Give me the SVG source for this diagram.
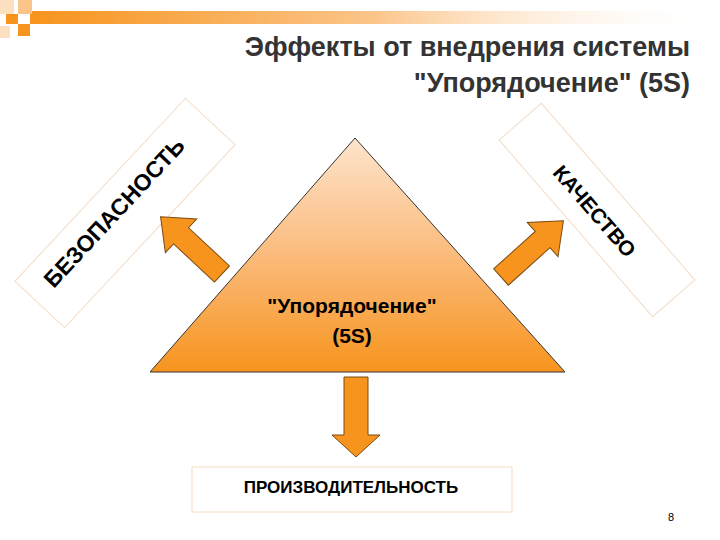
<svg xmlns="http://www.w3.org/2000/svg" width="720" height="540" viewBox="0 0 720 540">
<defs>
<linearGradient id="bar" x1="0" x2="1" y1="0" y2="0"><stop offset="0" stop-color="#f7941d"/><stop offset="0.5" stop-color="#fbc58a"/><stop offset="1" stop-color="#fff" stop-opacity="0"/></linearGradient>
<linearGradient id="tri" x1="0" x2="0" y1="0" y2="1"><stop offset="0" stop-color="#fde4cc"/><stop offset="0.5" stop-color="#fbbb7c"/><stop offset="1" stop-color="#f7941d"/></linearGradient>
<style>
.ar{fill:#f7941d;stroke:#7a4a10;stroke-width:1}
.bx{fill:#fff;stroke:#f3dcc4;stroke-width:1}
.t{font-family:"Liberation Sans",Arial,sans-serif;fill:#000}
</style>
</defs>
<g id="decor">
<rect x="30" y="11" width="690" height="13" fill="url(#bar)"/>
<rect x="0" y="0" width="14" height="14" fill="#fde0c0"/>
<rect x="18" y="0" width="14" height="14" fill="#fbc58a"/>
<rect x="6" y="14" width="12" height="10" fill="#f7941d"/>
<rect x="18" y="24" width="12" height="12" fill="#f7941d"/>
<rect x="0" y="26" width="10" height="12" fill="#fde0c0"/>
</g>
<g id="title" class="t" font-size="27" font-weight="bold" text-anchor="end">
<text x="690" y="56" style="fill:#333">Эффекты от внедрения системы</text>
<text x="690" y="92" style="fill:#333">"Упорядочение" (5S)</text>
</g>
<g id="safety">
<rect class="bx" x="-125" y="-34" width="250" height="68" transform="translate(125,213) rotate(-47)"/>
<text class="t" font-size="23" font-weight="bold" text-anchor="middle" transform="translate(120,218) rotate(-47)">БЕЗОПАСНОСТЬ</text>
</g>
<g id="quality">
<rect class="bx" x="-117" y="-28" width="234" height="56" transform="translate(597,210) rotate(49)"/>
<text class="t" font-size="21" font-weight="bold" text-anchor="middle" transform="translate(589,216) rotate(49)">КАЧЕСТВО</text>
</g>
<g id="center">
<polygon points="355,138 150,372 565,372" fill="url(#tri)" stroke="#333" stroke-width="1"/>
<text class="t" font-size="21" font-weight="bold" text-anchor="middle" x="352" y="313">"Упорядочение"</text>
<text class="t" font-size="21" font-weight="bold" text-anchor="middle" x="352" y="343">(5S)</text>
</g>
<g id="connectors">
<polygon class="ar" points="0,-11 56,-11 56,-23 84,0 56,23 56,11 0,11" transform="translate(222,274) rotate(-137)"/>
<polygon class="ar" points="0,-11 56,-11 56,-23 84,0 56,23 56,11 0,11" transform="translate(501,277) rotate(-42)"/>
<polygon class="ar" points="0,-12 58,-12 58,-24 80,0 58,24 58,12 0,12" transform="translate(356,377) rotate(90)"/>
</g>
<g id="productivity">
<rect x="192" y="467" width="320" height="45" fill="#fff" stroke="#f3dcc4"/>
<text class="t" font-size="17" font-weight="bold" text-anchor="middle" x="351" y="493">ПРОИЗВОДИТЕЛЬНОСТЬ</text>
</g>
<text class="t" font-size="11" x="668" y="521">8</text>
</svg>
